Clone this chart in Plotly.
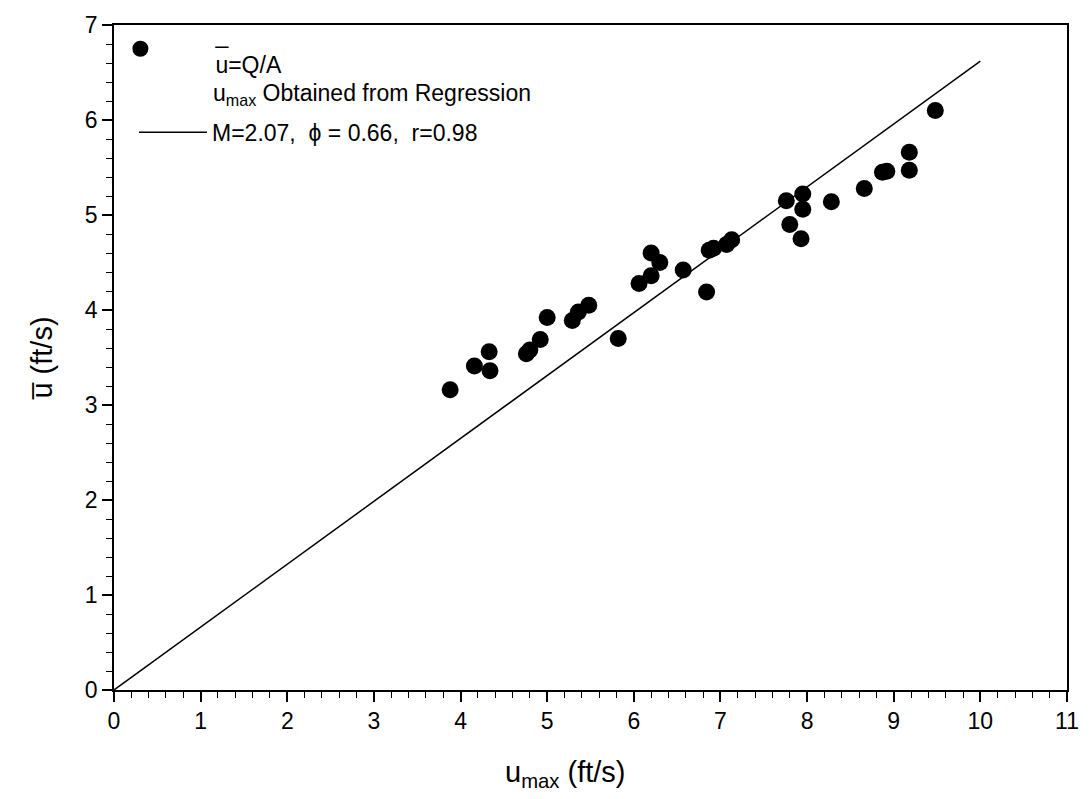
import plotly.graph_objects as go

# Measured points: u_max (ft/s) vs mean velocity u = Q/A (ft/s)
u_max = [3.88, 4.16, 4.33, 4.34, 4.76, 4.80, 4.92, 5.00, 5.29, 5.36, 5.48, 5.82,
         6.06, 6.20, 6.20, 6.30, 6.57, 6.84, 6.87, 6.92, 7.07, 7.13,
         7.76, 7.80, 7.93, 7.95, 7.95, 8.28, 8.66, 8.87, 8.92, 9.18, 9.18, 9.48]
u_mean = [3.16, 3.41, 3.56, 3.36, 3.54, 3.58, 3.69, 3.92, 3.89, 3.98, 4.05, 3.70,
          4.28, 4.36, 4.60, 4.50, 4.42, 4.19, 4.63, 4.65, 4.69, 4.74,
          5.15, 4.90, 4.75, 5.22, 5.06, 5.14, 5.28, 5.45, 5.46, 5.66, 5.47, 6.10]

# Regression line u = phi * u_max
line_x = [0, 10]
line_y = [0, 6.62]

FONT = "Liberation Sans, Arial, sans-serif"

fig = go.Figure()
fig.add_trace(go.Scatter(
    x=u_max, y=u_mean, mode="markers",
    marker=dict(color="black", size=17, line=dict(width=0)),
    name="_<br>u=Q/A",
    legend="legend",
))
fig.add_trace(go.Scatter(
    x=line_x, y=line_y, mode="lines",
    line=dict(color="black", width=1.5),
    name="M=2.07,  \u03d5 = 0.66,  r=0.98",
    legend="legend2",
))

axis_common = dict(
    showline=True, linecolor="black", linewidth=1.5, mirror=True,
    showgrid=False, zeroline=False,
    ticks="outside", ticklen=10, tickwidth=1.5, tickcolor="black",
    tickfont=dict(family=FONT, size=23, color="black"),
    minor=dict(ticks="outside", ticklen=6, tickwidth=1.2, tickcolor="black", dtick=0.2),
)

fig.update_xaxes(range=[0, 11], dtick=1, tick0=0, **axis_common)
fig.update_yaxes(range=[0, 7], dtick=1, tick0=0,
                 title=dict(text="u\u0305 (ft/s)", font=dict(family=FONT, size=29, color="black"),
                            standoff=24),
                 **axis_common)

legend_common = dict(xanchor="left", yanchor="top",
                     bgcolor="rgba(0,0,0,0)", borderwidth=0,
                     font=dict(family=FONT, size=23, color="black"))

fig.update_layout(
    width=1091, height=799,
    margin=dict(l=114, r=17, t=19, b=109),
    plot_bgcolor="white", paper_bgcolor="white",
    font=dict(family=FONT, color="black"),
    showlegend=True,
    legend=dict(x=-0.051, y=1.019, itemwidth=140, valign="middle", **legend_common),
    legend2=dict(x=0.021, y=0.871, itemwidth=68, valign="middle", **legend_common),
    annotations=[
        dict(text="u<sub>max</sub> Obtained from Regression", xref="paper", yref="paper",
             x=0.1015, y=0.896, xanchor="left", yanchor="middle", showarrow=False,
             font=dict(family=FONT, size=23, color="black")),
        dict(text="u<sub>max</sub> (ft/s)", xref="paper", yref="paper",
             x=0.474, y=-0.127, xanchor="center", yanchor="middle", showarrow=False,
             font=dict(family=FONT, size=29, color="black")),
    ],
)

fig.write_html("out.html")
